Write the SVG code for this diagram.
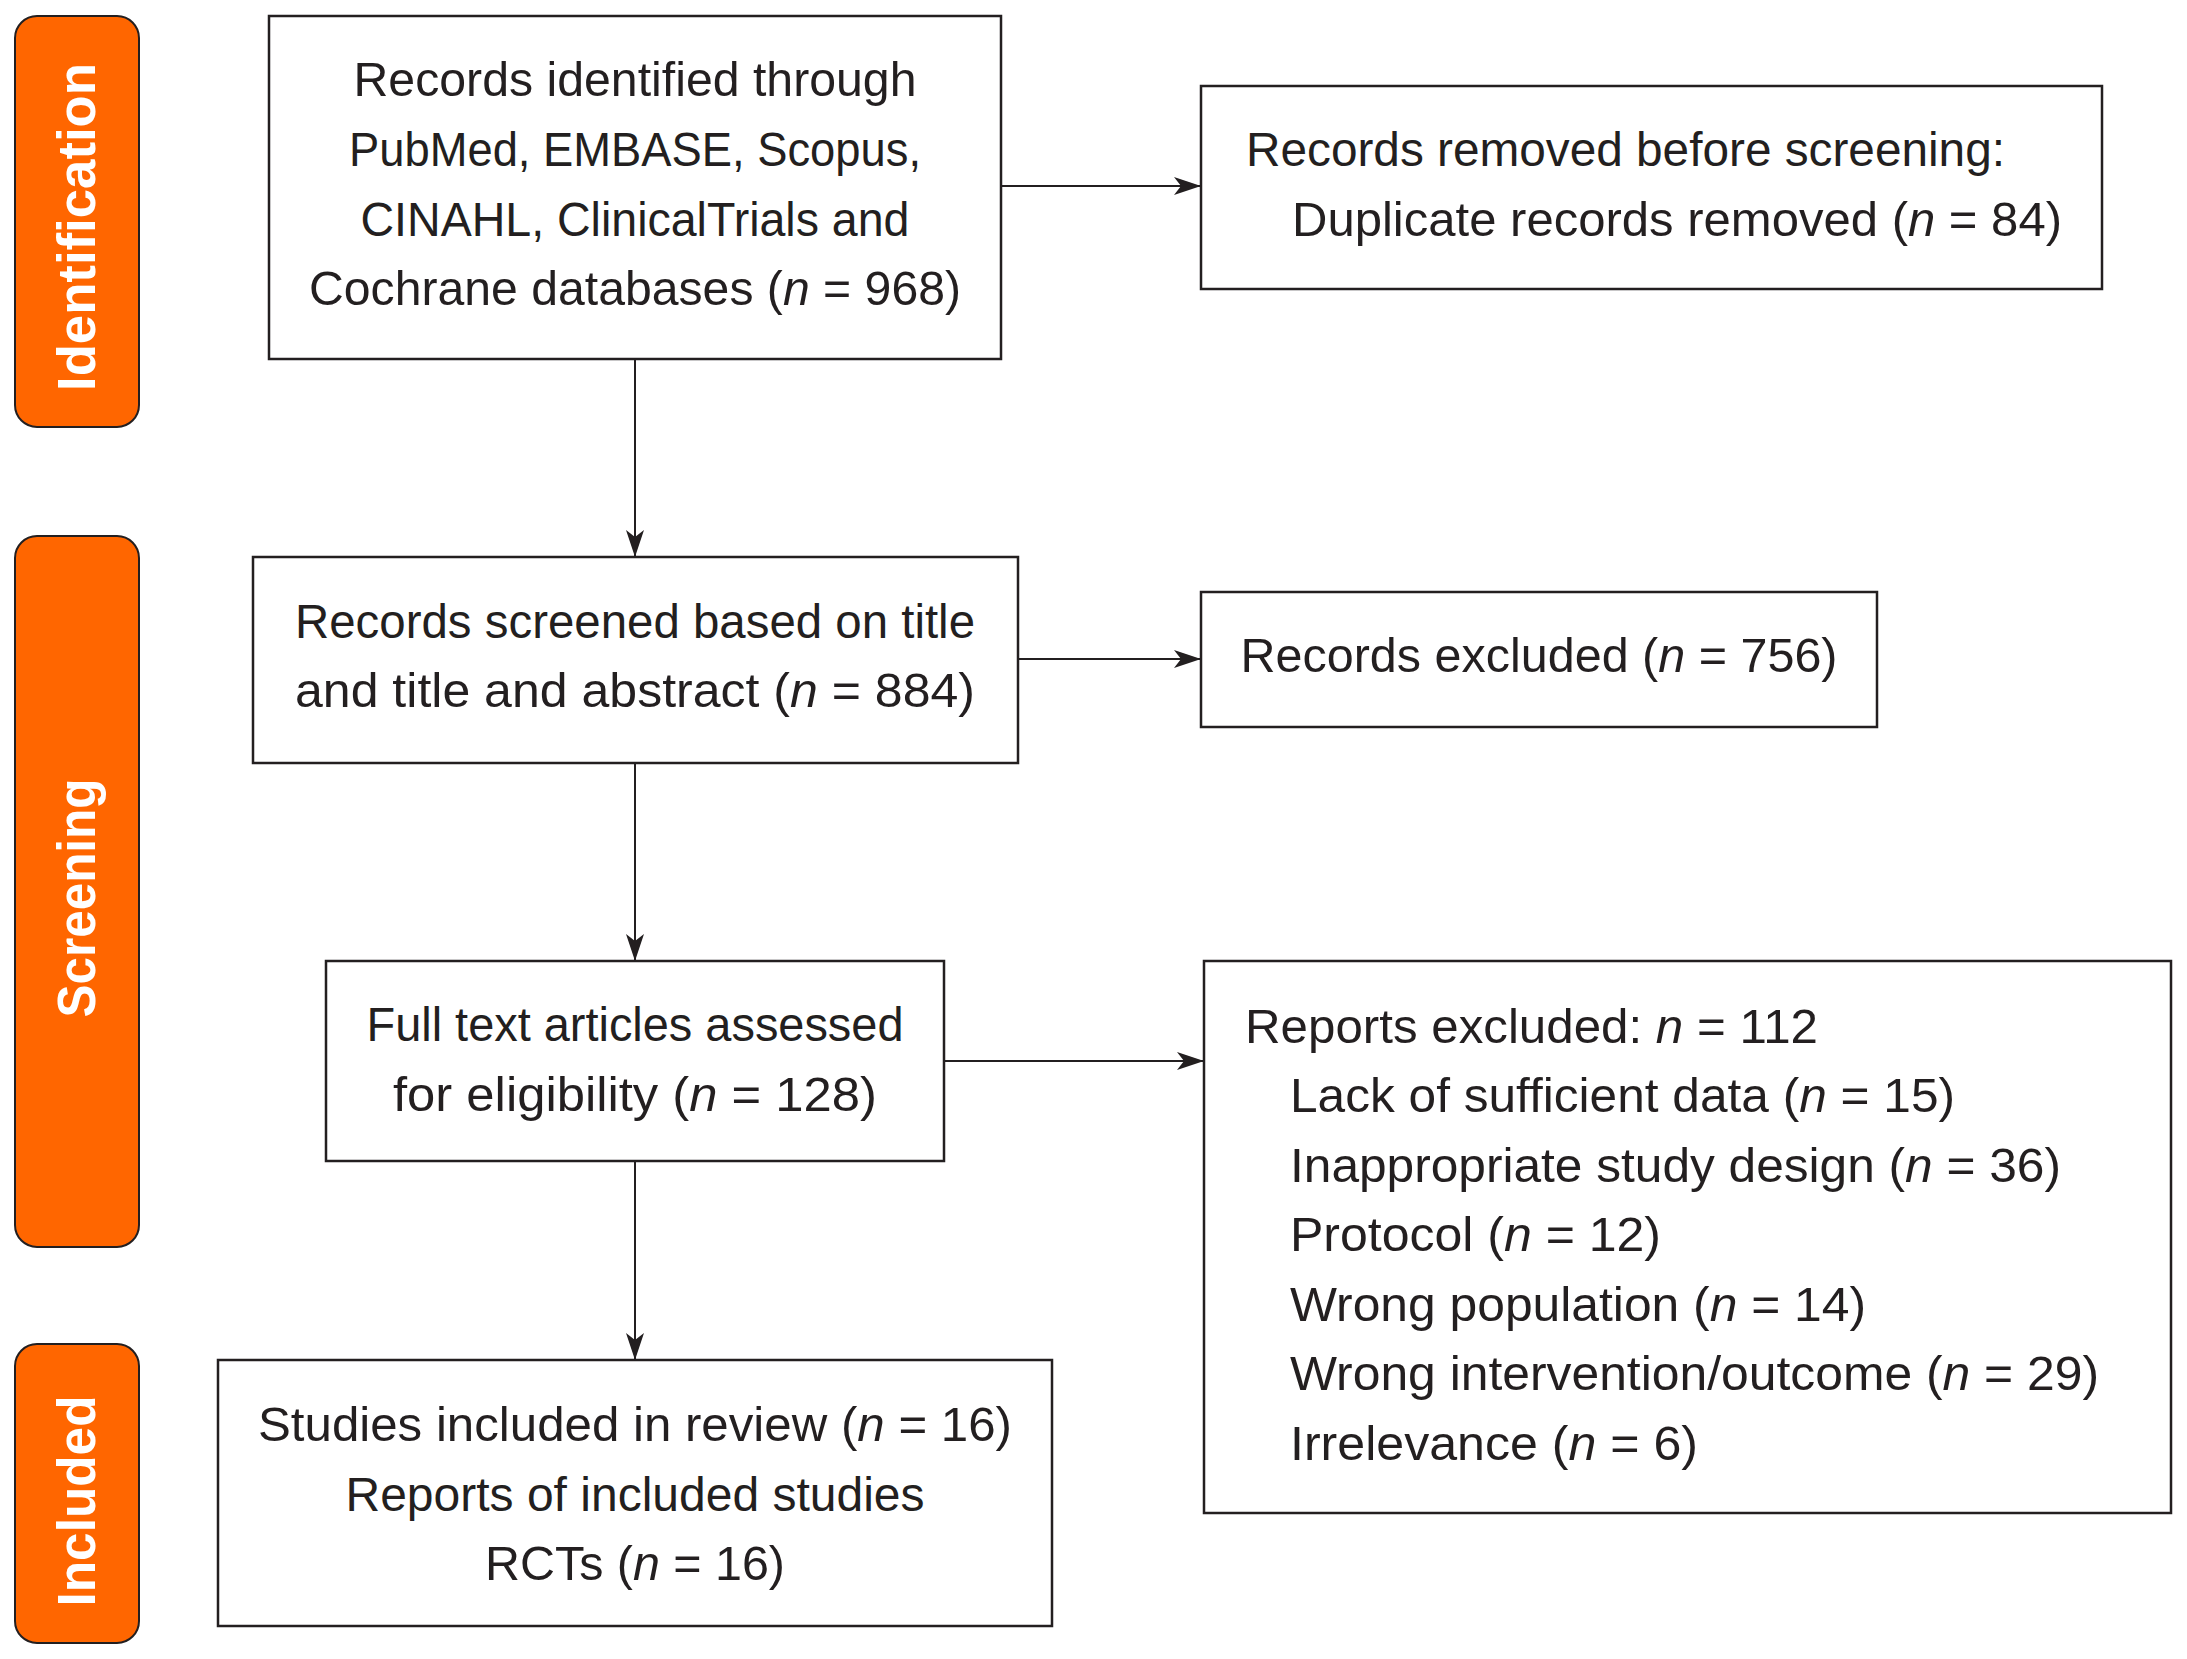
<svg xmlns="http://www.w3.org/2000/svg" width="2187" height="1659" viewBox="0 0 2187 1659">
<style>
.bg{fill:#ffffff}
.pill{fill:#ff6600;stroke:#231f20;stroke-width:2}
.box{fill:#ffffff;stroke:#231f20;stroke-width:2.5}
.lbl{font-family:"Liberation Sans",Arial,sans-serif;font-weight:bold;font-size:53px;fill:#ffffff}
.t{font-family:"Liberation Sans",Arial,sans-serif;font-size:48px;fill:#231f20}
.c{text-anchor:middle}
.i{font-style:italic}
.edge{stroke:#231f20;stroke-width:2;fill:none}
</style>
<defs>
<marker id="ah" markerUnits="userSpaceOnUse" markerWidth="28" markerHeight="20" refX="27" refY="10" orient="auto">
<path d="M0,1 L27,10 L0,19 L7,10 Z" fill="#231f20"/>
</marker>
</defs>
<rect class="bg" x="0" y="0" width="2187" height="1659"/>

<g id="phase-identification">
<rect class="pill" x="15" y="16" width="124" height="411" rx="22" ry="22"/>
<text class="lbl c" transform="translate(95,227) rotate(-90)" textLength="328" lengthAdjust="spacingAndGlyphs">Identification</text>
</g>
<g id="phase-screening">
<rect class="pill" x="15" y="536" width="124" height="711" rx="22" ry="22"/>
<text class="lbl c" transform="translate(95,898) rotate(-90)" textLength="239" lengthAdjust="spacingAndGlyphs">Screening</text>
</g>
<g id="phase-included">
<rect class="pill" x="15" y="1344" width="124" height="299" rx="22" ry="22"/>
<text class="lbl c" transform="translate(95,1501) rotate(-90)" textLength="211" lengthAdjust="spacingAndGlyphs">Included</text>
</g>

<g id="connectors">
<line class="edge" x1="635" y1="359" x2="635" y2="557" marker-end="url(#ah)"/>
<line class="edge" x1="635" y1="763" x2="635" y2="961" marker-end="url(#ah)"/>
<line class="edge" x1="635" y1="1161" x2="635" y2="1360" marker-end="url(#ah)"/>
<line class="edge" x1="1001" y1="186" x2="1201" y2="186" marker-end="url(#ah)"/>
<line class="edge" x1="1018" y1="659" x2="1201" y2="659" marker-end="url(#ah)"/>
<line class="edge" x1="944" y1="1061" x2="1204" y2="1061" marker-end="url(#ah)"/>
</g>

<g id="node-identified">
<rect class="box" x="269" y="16" width="732" height="343"/>
<text class="t c" x="635" y="96" textLength="563" lengthAdjust="spacingAndGlyphs">Records identified through</text>
<text class="t c" x="635" y="166" textLength="572" lengthAdjust="spacingAndGlyphs">PubMed, EMBASE, Scopus,</text>
<text class="t c" x="635" y="236" textLength="549" lengthAdjust="spacingAndGlyphs">CINAHL, ClinicalTrials and</text>
<text class="t c" x="635" y="305" textLength="652" lengthAdjust="spacingAndGlyphs">Cochrane databases (<tspan class="i">n</tspan> = 968)</text>
</g>

<g id="node-removed">
<rect class="box" x="1201" y="86" width="901" height="203"/>
<text class="t" x="1246" y="166" textLength="759" lengthAdjust="spacingAndGlyphs">Records removed before screening:</text>
<text class="t" x="1292" y="236" textLength="770" lengthAdjust="spacingAndGlyphs">Duplicate records removed (<tspan class="i">n</tspan> = 84)</text>
</g>

<g id="node-screened">
<rect class="box" x="253" y="557" width="765" height="206"/>
<text class="t c" x="635" y="638" textLength="680" lengthAdjust="spacingAndGlyphs">Records screened based on title</text>
<text class="t c" x="635" y="707" textLength="680" lengthAdjust="spacingAndGlyphs">and title and abstract (<tspan class="i">n</tspan> = 884)</text>
</g>

<g id="node-excluded">
<rect class="box" x="1201" y="592" width="676" height="135"/>
<text class="t c" x="1539" y="672" textLength="597" lengthAdjust="spacingAndGlyphs">Records excluded (<tspan class="i">n</tspan> = 756)</text>
</g>

<g id="node-fulltext">
<rect class="box" x="326" y="961" width="618" height="200"/>
<text class="t c" x="635" y="1041" textLength="537" lengthAdjust="spacingAndGlyphs">Full text articles assessed</text>
<text class="t c" x="635" y="1111" textLength="484" lengthAdjust="spacingAndGlyphs">for eligibility (<tspan class="i">n</tspan> = 128)</text>
</g>

<g id="node-reports-excluded">
<rect class="box" x="1204" y="961" width="967" height="552"/>
<text class="t" x="1245" y="1043" textLength="573" lengthAdjust="spacingAndGlyphs">Reports excluded: <tspan class="i">n</tspan> = 112</text>
<text class="t" x="1290" y="1112" textLength="665" lengthAdjust="spacingAndGlyphs">Lack of sufficient data (<tspan class="i">n</tspan> = 15)</text>
<text class="t" x="1290" y="1182" textLength="771" lengthAdjust="spacingAndGlyphs">Inappropriate study design (<tspan class="i">n</tspan> = 36)</text>
<text class="t" x="1290" y="1251" textLength="371" lengthAdjust="spacingAndGlyphs">Protocol (<tspan class="i">n</tspan> = 12)</text>
<text class="t" x="1290" y="1321" textLength="576" lengthAdjust="spacingAndGlyphs">Wrong population (<tspan class="i">n</tspan> = 14)</text>
<text class="t" x="1290" y="1390" textLength="809" lengthAdjust="spacingAndGlyphs">Wrong intervention/outcome (<tspan class="i">n</tspan> = 29)</text>
<text class="t" x="1290" y="1460" textLength="408" lengthAdjust="spacingAndGlyphs">Irrelevance (<tspan class="i">n</tspan> = 6)</text>
</g>

<g id="node-included">
<rect class="box" x="218" y="1360" width="834" height="266"/>
<text class="t c" x="635" y="1441" textLength="754" lengthAdjust="spacingAndGlyphs">Studies included in review (<tspan class="i">n</tspan> = 16)</text>
<text class="t c" x="635" y="1511" textLength="579" lengthAdjust="spacingAndGlyphs">Reports of included studies</text>
<text class="t c" x="635" y="1580" textLength="300" lengthAdjust="spacingAndGlyphs">RCTs (<tspan class="i">n</tspan> = 16)</text>
</g>
</svg>
